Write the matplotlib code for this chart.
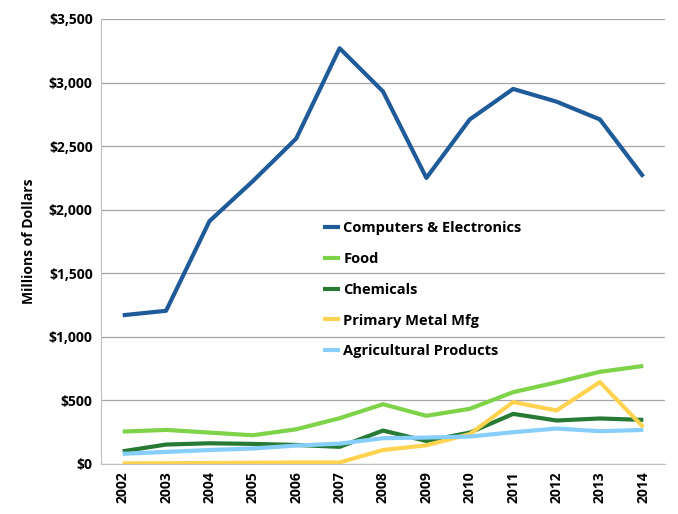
import numpy as np
import matplotlib.pyplot as plt
from matplotlib.ticker import FuncFormatter

years = list(range(2002, 2015))

computers = [1170, 1205, 1910, 2225, 2560, 3270, 2930, 2250, 2710, 2950, 2850, 2710, 2260]
food = [255, 268, 247, 226, 273, 360, 470, 379, 434, 565, 642, 725, 771]
chemicals = [100, 153, 163, 158, 150, 135, 263, 181, 247, 394, 342, 358, 347]
primary_metal = [5, 6, 8, 10, 12, 12, 110, 147, 235, 487, 421, 644, 290]
agricultural = [80, 95, 110, 122, 145, 160, 203, 208, 216, 250, 279, 258, 268]

series = [
    ("Computers & Electronics", computers, "#1f5b99"),
    ("Food", food, "#7ed348"),
    ("Chemicals", chemicals, "#267a34"),
    ("Primary Metal Mfg", primary_metal, "#ffd34f"),
    ("Agricultural Products", agricultural, "#87cffa"),
]

plt.rcParams['font.family'] = ['Open Sans', 'DejaVu Sans']
plt.rcParams['font.weight'] = 'bold'

fig = plt.figure(figsize=(6.78, 5.14), dpi=100)
ax = fig.add_axes([101/678, 1 - 464/514, (665 - 101)/678, (464 - 19)/514])

for name, vals, col in series:
    ax.plot(years, vals, color=col, lw=3, label=name, solid_capstyle='butt')

ax.set_ylim(0, 3500)
ax.set_yticks(np.arange(0, 3501, 500))
ax.yaxis.set_major_formatter(FuncFormatter(lambda v, p: '${:,.0f}'.format(v)))
ax.set_xlim(2001.5, 2014.5)
ax.set_xticks(years)
ax.set_xticklabels([str(y) for y in years], rotation=90, fontweight='bold', fontsize=10)
for lab in ax.get_yticklabels():
    lab.set_fontweight('bold')
    lab.set_fontsize(10)
ax.tick_params(length=0, pad=6)
ax.tick_params(axis='x', pad=5)

ax.grid(axis='y', color='#a6a6a6', lw=0.9)
ax.set_axisbelow(True)
for s in ['top', 'right']:
    ax.spines[s].set_visible(False)
ax.spines['left'].set_color('#bfbfbf')
ax.spines['bottom'].set_color('#bfbfbf')

ax.set_ylabel('Millions of Dollars', fontweight='bold', fontsize=10, labelpad=9)

leg = ax.legend(loc='upper left', bbox_to_anchor=(0.37, 0.575), frameon=False,
                handlelength=1.2, handletextpad=0.2, labelspacing=1.15,
                prop={'weight': 'bold', 'size': 10.5})

fig.savefig('out.png', dpi=100)
